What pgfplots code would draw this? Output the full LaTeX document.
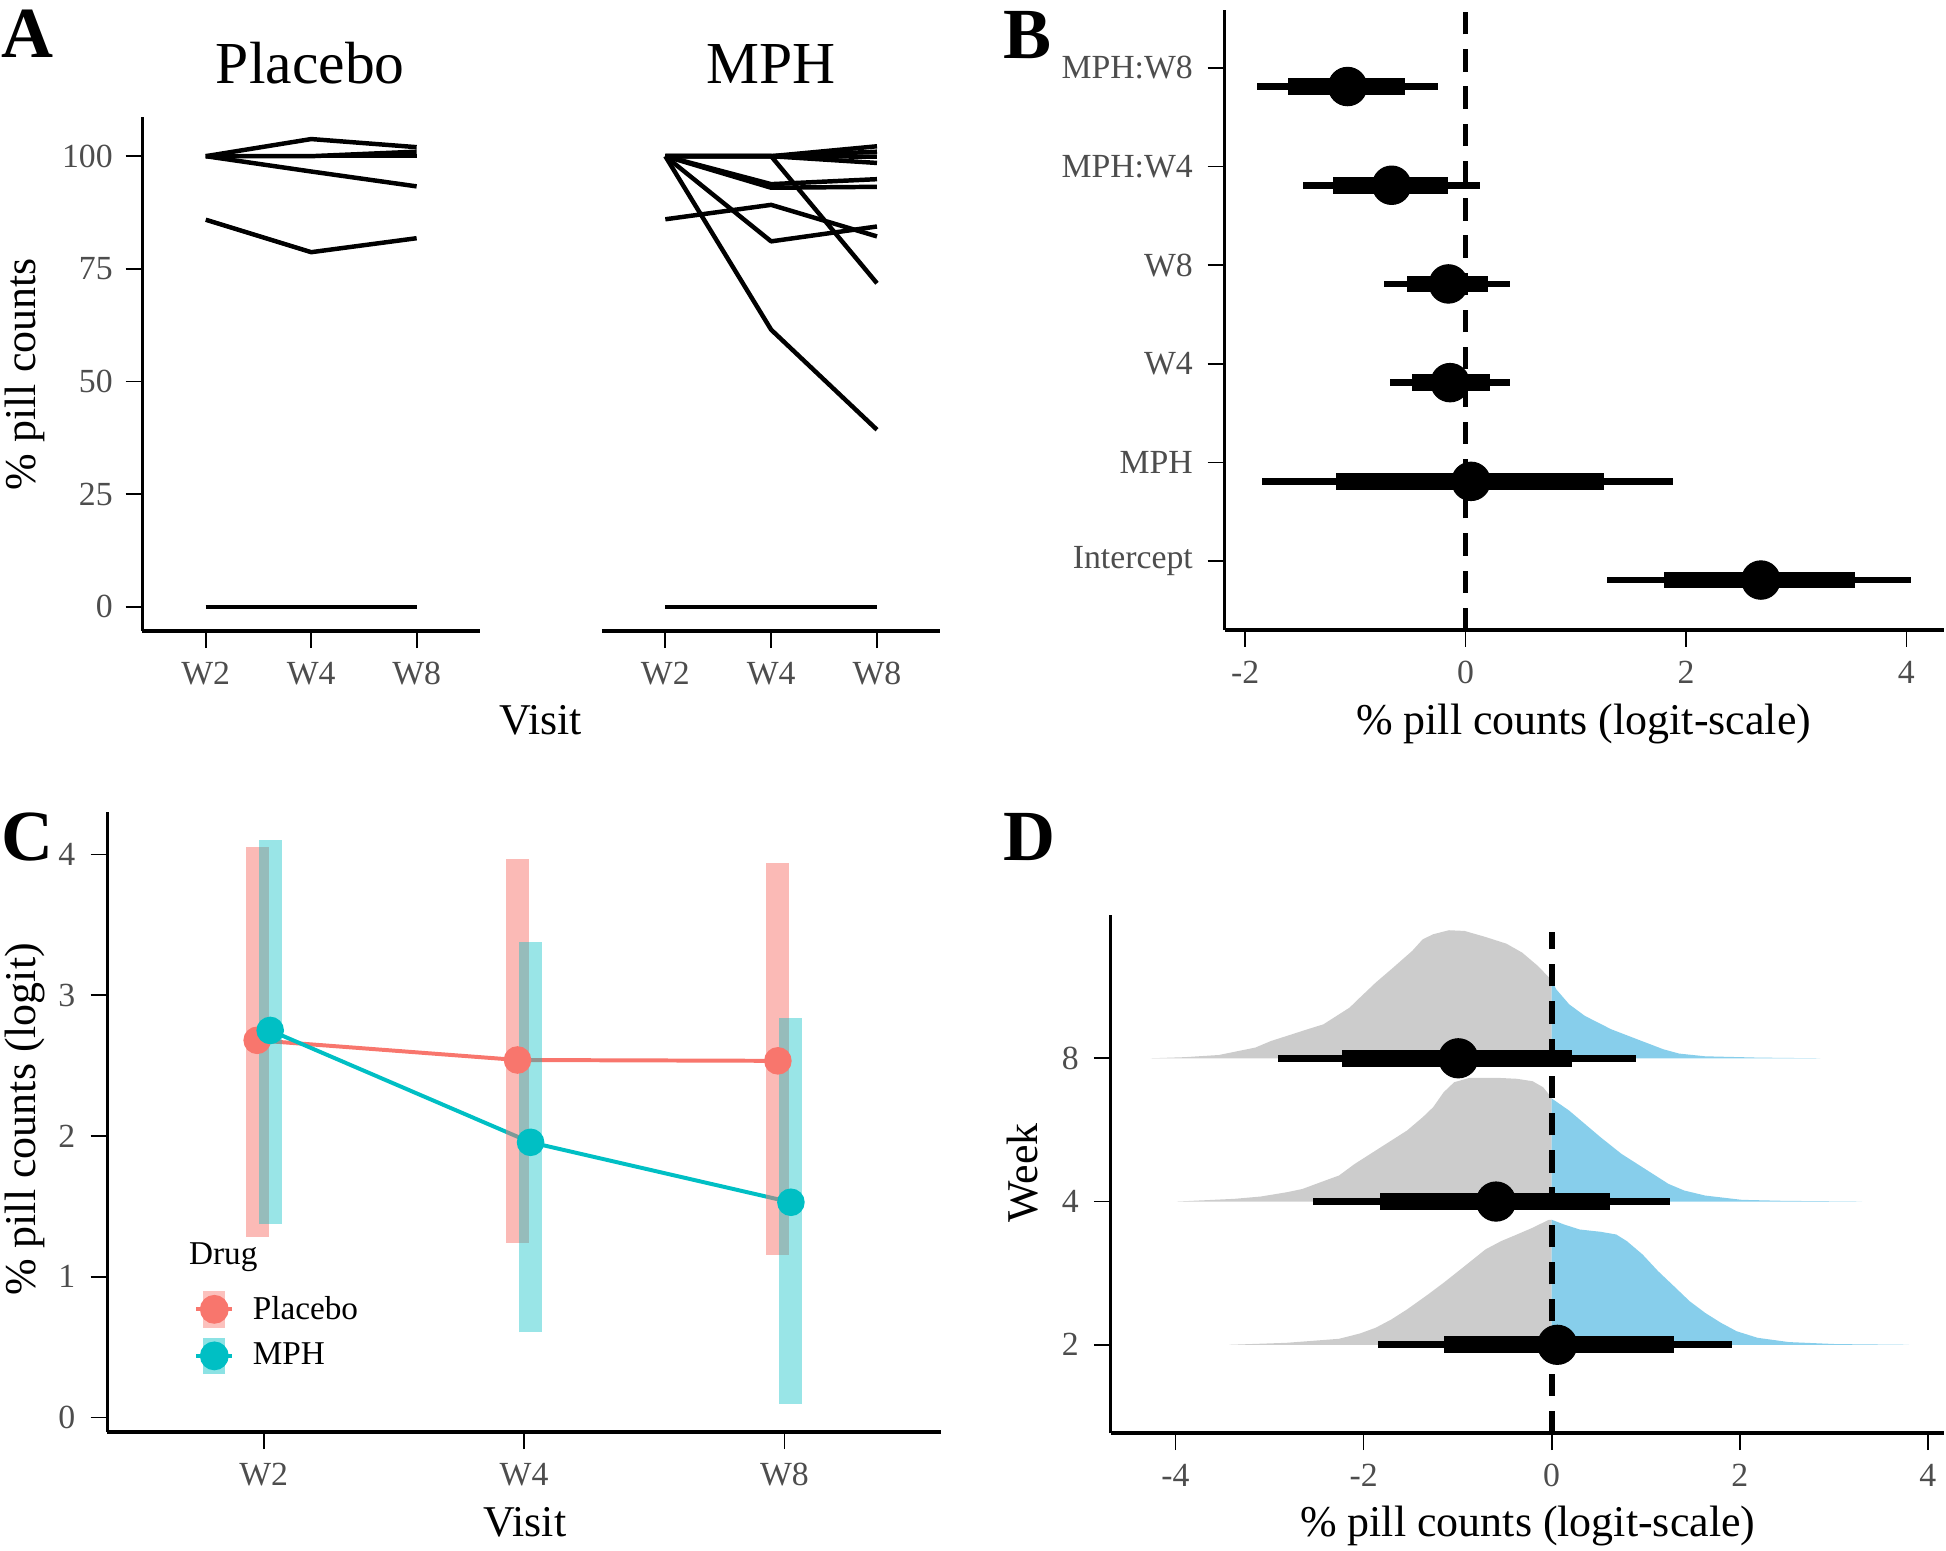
\documentclass[border=0pt]{standalone}
\usepackage{fontspec}
\setmainfont{Liberation Serif}
\usepackage{pgfplots}
\pgfplotsset{compat=1.18}
\usepackage{pgfplotstable}
\definecolor{plac}{HTML}{F8766D}
\definecolor{mph}{HTML}{00BFC4}
\definecolor{tickgray}{HTML}{4D4D4D}
\definecolor{dgray}{HTML}{CCCCCC}
\definecolor{dblue}{HTML}{87CEEB}
\newcommand\tickfont{\fontsize{13.6}{15}\selectfont}
\newcommand\labfont{\fontsize{17.7}{20}\selectfont}
\newcommand\titfont{\fontsize{24}{28}\selectfont}
\newcommand\letfont{\fontsize{29}{32}\selectfont\bfseries}
\newcommand\legfont{\fontsize{13.4}{15}\selectfont}

\pgfplotsset{
  gg/.style={
    axis x line=bottom, axis y line=left,
    scale only axis, anchor=south west, clip=false,
    axis line style={-, line width=1.4pt, black},
    x axis line style={-}, y axis line style={-},
    major tick style={line width=0.7pt, black},
    tick align=outside,
    major tick length=6.8pt,
    tick label style={font=\tickfont, text=tickgray},
    xticklabel style={anchor=north, inner sep=0pt, yshift=-5.6pt},
    yticklabel style={anchor=east, inner sep=0pt},
  },
  aline/.style={black, line width=1.8pt, mark=none, line join=round},
}

\pgfplotstableread{
pos lo95 lo66 est hi66 hi95
0.81 1.28 1.80 2.68 3.53 4.04
1.81 -1.85 -1.174 0.05 1.259 1.885
2.81 -0.688 -0.49 -0.14 0.224 0.403
3.81 -0.743 -0.53 -0.155 0.207 0.403
4.81 -1.47 -1.20 -0.67 -0.155 0.134
5.81 -1.89 -1.61 -1.07 -0.55 -0.25
}\tabB

\pgfplotstableread{
pos lo95 lo66 est hi66 hi95
1 -1.844 -1.149 0.06 1.299 1.922
2 -2.539 -1.827 -0.592 0.620 1.254
3 -2.912 -2.233 -0.993 0.214 0.899
}\tabD

\begin{document}
\begin{tikzpicture}
\path[use as bounding box] (0,0) rectangle (784pt,624.5pt);

% ---------- Panel A, Placebo facet
\begin{axis}[gg, at={(57.4pt,370.2pt)}, width=135.95pt, height=207.35pt,
  xmin=0.4, xmax=3.6, ymin=-5.4, ymax=108.8,
  yticklabel style={xshift=-5pt},
  xtick={1,2,3}, xticklabels={W2,W4,W8},
  ytick={0,25,50,75,100}, yticklabels={0,25,50,75,100}]
\addplot[aline] coordinates {(1,100) (2,103.8) (3,102.0)};
\addplot[aline] coordinates {(1,100) (2,100) (3,101.0)};
\addplot[aline] coordinates {(1,100) (2,100) (3,100)};
\addplot[aline] coordinates {(1,100) (2,96.6) (3,93.3)};
\addplot[aline] coordinates {(1,85.9) (2,78.7) (3,81.8)};
\addplot[aline] coordinates {(1,0) (2,0) (3,0)};
\end{axis}

% ---------- Panel A, MPH facet
\begin{axis}[gg, at={(242.45pt,370.2pt)}, width=136.45pt, height=207.35pt,
  xmin=0.4, xmax=3.6, ymin=-5.4, ymax=108.8,
  axis y line=none, ytick=\empty,
  xtick={1,2,3}, xticklabels={W2,W4,W8}]
\addplot[aline] coordinates {(1,100) (2,100) (3,102.2)};
\addplot[aline] coordinates {(1,100) (2,100) (3,101.0)};
\addplot[aline] coordinates {(1,100) (2,100) (3,99.9)};
\addplot[aline] coordinates {(1,100) (2,100) (3,98.5)};
\addplot[aline] coordinates {(1,100) (2,93.8) (3,94.9)};
\addplot[aline] coordinates {(1,100) (2,93.0) (3,93.2)};
\addplot[aline] coordinates {(1,100) (2,100) (3,71.8)};
\addplot[aline] coordinates {(1,86.0) (2,89.2) (3,82.2)};
\addplot[aline] coordinates {(1,100) (2,81.1) (3,84.4)};
\addplot[aline] coordinates {(1,100) (2,61.5) (3,39.3)};
\addplot[aline] coordinates {(1,0) (2,0) (3,0)};
\end{axis}

% ---------- Panel B
\begin{axis}[gg, at={(493.35pt,370.65pt)}, width=290pt, height=250pt,
  xmin=-2.186, xmax=4.345, ymin=0.303, ymax=6.59,
  yticklabel style={xshift=-5.8pt},
  xtick={-2,0,2,4}, xticklabels={-2,0,2,4},
  ytick={1,2,3,4,5,6}, yticklabels={Intercept,MPH,W4,W8,MPH:W4,MPH:W8}]
\addplot[black, line width=2.4pt, dash pattern=on 9pt off 6pt, mark=none] coordinates {(0,0.303) (0,6.59)};
\addplot[only marks, mark=none, error bars/.cd, x dir=both, x explicit, error mark=none,
  error bar style={line width=2.7pt, black, solid}]
  table[x=est, y=pos, x error plus expr={\thisrow{hi95}-\thisrow{est}}, x error minus expr={\thisrow{est}-\thisrow{lo95}}] {\tabB};
\addplot[only marks, mark=none, error bars/.cd, x dir=both, x explicit, error mark=none,
  error bar style={line width=6.7pt, black, solid}]
  table[x=est, y=pos, x error plus expr={\thisrow{hi66}-\thisrow{est}}, x error minus expr={\thisrow{est}-\thisrow{lo66}}] {\tabB};
\addplot[only marks, mark=*, mark size=7.75pt, black] table[x=est, y=pos] {\tabB};
\end{axis}

% ---------- Panel C
\begin{axis}[gg, at={(43.3pt,47.5pt)}, width=335.65pt, height=249.9pt,
  xmin=0.4, xmax=3.6, ymin=-0.105, ymax=4.303,
  yticklabel style={xshift=-6pt},
  xtick={1,2,3}, xticklabels={W2,W4,W8},
  ytick={0,1,2,3,4}, yticklabels={0,1,2,3,4},
  legend style={at={(0.1041,0.2457)}, anchor=north west, draw=none, fill=none,
    inner sep=0pt, outer sep=0pt, row sep={18.75pt,between origins}, column sep=7.4pt,
    nodes={inner sep=0pt, font=\legfont, text=black}},
  legend cell align=left,
  legend image code/.code={
    \draw[#1, mark=none] (0pt,0pt) -- (14.6pt,0pt);
    \fill[#1] (7.3pt,0pt) circle (5pt);
    \draw[#1, mark=none, line width=9pt, opacity=0.45] (7.3pt,-7.4pt) -- (7.3pt,7.4pt);
  }]
\addplot[plac, line width=1.6pt, mark=*, mark size=4.75pt] coordinates {(0.975,2.68) (1.975,2.54) (2.975,2.534)};
\addlegendentry{Placebo}
\addplot[mph, line width=1.6pt, mark=*, mark size=4.75pt] coordinates {(1.025,2.75) (2.025,1.955) (3.025,1.529)};
\addlegendentry{MPH}
\addplot[plac, line width=9.3pt, opacity=0.5, mark=none, forget plot] coordinates {(0.975,1.284) (0.975,4.052)};
\addplot[plac, line width=9.3pt, opacity=0.5, mark=none, forget plot] coordinates {(1.975,1.243) (1.975,3.965)};
\addplot[plac, line width=9.3pt, opacity=0.5, mark=none, forget plot] coordinates {(2.975,1.155) (2.975,3.937)};
\addplot[mph, line width=9.3pt, opacity=0.4, mark=none, forget plot] coordinates {(1.025,1.372) (1.025,4.10)};
\addplot[mph, line width=9.3pt, opacity=0.4, mark=none, forget plot] coordinates {(2.025,0.604) (2.025,3.375)};
\addplot[mph, line width=9.3pt, opacity=0.4, mark=none, forget plot] coordinates {(3.025,0.098) (3.025,2.841)};
\end{axis}

% ---------- Panel D
\begin{axis}[gg, at={(447.45pt,47.1pt)}, width=335.55pt, height=208.75pt,
  xmin=-4.69, xmax=4.167, ymin=0.383, ymax=4.0,
  yticklabel style={xshift=-5.8pt},
  xtick={-4,-2,0,2,4}, xticklabels={-4,-2,0,2,4},
  ytick={1,2,3}, yticklabels={2,4,8}]
% week 8
\addplot[fill=dgray, draw=none, mark=none] coordinates {(-4.264,3) (-3.9,3.008) (-3.540,3.023) (-3.151,3.075) (-2.984,3.121) (-2.817,3.156) (-2.595,3.203) (-2.428,3.237) (-2.261,3.307) (-2.149,3.354) (-2.039,3.424) (-1.872,3.528) (-1.705,3.622) (-1.483,3.750) (-1.371,3.831) (-1.260,3.866) (-1.093,3.894) (-0.926,3.889) (-0.704,3.847) (-0.481,3.800) (-0.314,3.738) (-0.147,3.645) (0,3.545) (0,3)};
\addplot[fill=dblue, draw=none, mark=none] coordinates {(0,3) (0,3.545) (0.048,3.482) (0.186,3.377) (0.353,3.296) (0.632,3.203) (0.909,3.133) (1.188,3.063) (1.355,3.033) (1.632,3.014) (2.189,3.005) (2.857,3)};
% week 4
\addplot[fill=dgray, draw=none, mark=none] coordinates {(-3.985,2) (-3.373,2.019) (-3.095,2.035) (-2.817,2.065) (-2.650,2.088) (-2.428,2.142) (-2.261,2.182) (-2.094,2.263) (-1.927,2.333) (-1.705,2.426) (-1.538,2.496) (-1.371,2.589) (-1.260,2.659) (-1.149,2.763) (-1.037,2.833) (-0.870,2.864) (-0.592,2.864) (-0.370,2.857) (-0.203,2.840) (-0.091,2.798) (0,2.725) (0,2)};
\addplot[fill=dblue, draw=none, mark=none] coordinates {(0,2) (0,2.720) (0.186,2.635) (0.353,2.542) (0.520,2.449) (0.742,2.333) (0.909,2.263) (1.076,2.193) (1.243,2.123) (1.410,2.077) (1.632,2.042) (2.022,2.012) (2.467,2.005) (3.301,2)};
% week 2
\addplot[fill=dgray, draw=none, mark=none] coordinates {(-3.429,1) (-2.817,1.014) (-2.261,1.042) (-2.039,1.079) (-1.872,1.119) (-1.705,1.177) (-1.538,1.247) (-1.316,1.351) (-1.149,1.433) (-0.926,1.549) (-0.704,1.666) (-0.537,1.724) (-0.370,1.770) (-0.203,1.817) (-0.036,1.871) (0,1.873) (0,1)};
\addplot[fill=dblue, draw=none, mark=none] coordinates {(0,1) (0,1.873) (0.131,1.840) (0.298,1.805) (0.520,1.789) (0.687,1.770) (0.799,1.724) (0.966,1.631) (1.132,1.514) (1.299,1.410) (1.466,1.305) (1.632,1.223) (1.799,1.154) (1.966,1.095) (2.189,1.049) (2.523,1.019) (3.024,1.005) (3.802,1)};
\addplot[black, line width=2.4pt, dash pattern=on 9pt off 6pt, mark=none] coordinates {(0,0.383) (0,3.88)};
\addplot[only marks, mark=none, error bars/.cd, x dir=both, x explicit, error mark=none,
  error bar style={line width=2.7pt, black, solid}]
  table[x=est, y=pos, x error plus expr={\thisrow{hi95}-\thisrow{est}}, x error minus expr={\thisrow{est}-\thisrow{lo95}}] {\tabD};
\addplot[only marks, mark=none, error bars/.cd, x dir=both, x explicit, error mark=none,
  error bar style={line width=6.7pt, black, solid}]
  table[x=est, y=pos, x error plus expr={\thisrow{hi66}-\thisrow{est}}, x error minus expr={\thisrow{est}-\thisrow{lo66}}] {\tabD};
\addplot[only marks, mark=*, mark size=7.9pt, black] table[x=est, y=pos] {\tabD};
\end{axis}

% ---------- texts
\node[anchor=base west, inner sep=0pt, font=\letfont] at (0.5pt,601.5pt) {A};
\node[anchor=base west, inner sep=0pt, font=\letfont] at (404pt,601pt) {B};
\node[anchor=base west, inner sep=0pt, font=\letfont] at (0.5pt,278pt) {C};
\node[anchor=base west, inner sep=0pt, font=\letfont] at (404pt,278pt) {D};
\node[anchor=base, inner sep=0pt, font=\titfont] at (125pt,591pt) {Placebo};
\node[anchor=base, inner sep=0pt, font=\titfont] at (310.5pt,591pt) {MPH};
\node[anchor=base, inner sep=0pt, font=\labfont] at (217.8pt,328.5pt) {Visit};
\node[anchor=base, inner sep=0pt, font=\labfont] at (638pt,328.5pt) {\% pill counts (logit-scale)};
\node[anchor=base, inner sep=0pt, font=\labfont, rotate=90] at (14.5pt,473.75pt) {\% pill counts};
\node[anchor=base, inner sep=0pt, font=\labfont, rotate=90] at (14.5pt,173.5pt) {\% pill counts (logit)};
\node[anchor=base, inner sep=0pt, font=\labfont] at (211.5pt,5.5pt) {Visit};
\node[anchor=base, inner sep=0pt, font=\labfont] at (615.5pt,5.5pt) {\% pill counts (logit-scale)};
\node[anchor=base, inner sep=0pt, font=\labfont, rotate=90] at (418pt,152pt) {Week};
\node[anchor=base west, inner sep=0pt, font=\legfont] at (76pt,115.2pt) {Drug};
\end{tikzpicture}
\end{document}
